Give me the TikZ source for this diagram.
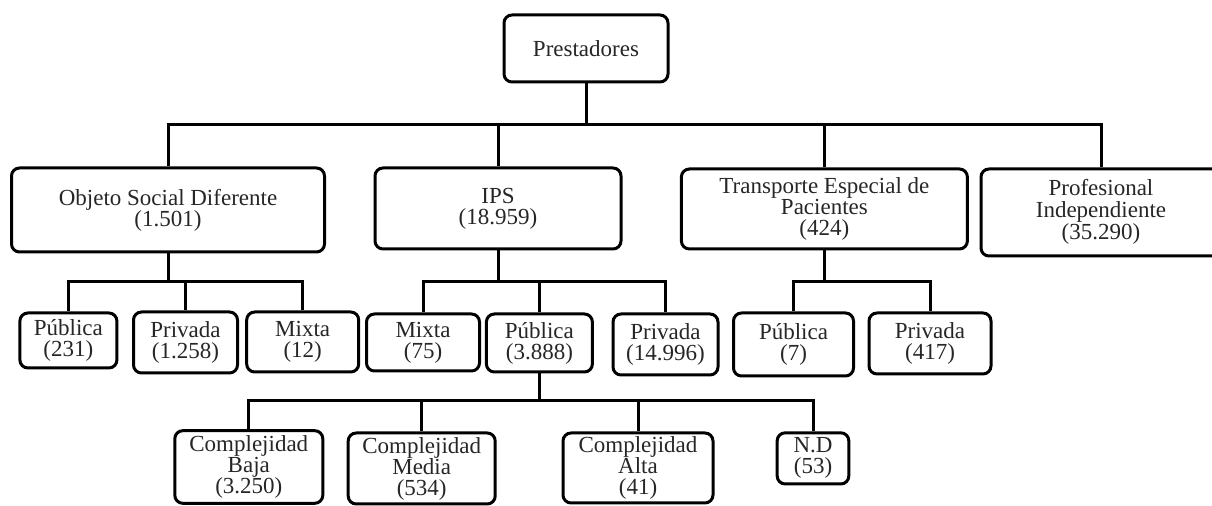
\documentclass[tikz,border=0pt]{standalone}
\usepackage{fontspec}
\setmainfont{Liberation Serif}
\tikzset{
	box/.style={draw,line width=1.5pt,rounded corners=4pt,align=center,inner sep=1pt,
		font=\fontsize{11.5}{10.5}\selectfont,text=black!85},
	link/.style={line width=1.5pt}
}
\begin{document}
\begin{tikzpicture}[x=0.5pt,y=-0.5pt]
\useasboundingbox (0,0) rectangle (1212,506);
\clip (0,0) rectangle (1212,506);

\draw 	(586,48.5) node[box,minimum width=82pt,minimum height=33.5pt](a1){Prestadores};

\draw 	(168,210) node[box,minimum width=156.5pt,minimum height=42pt](b1){Objeto Social Diferente\\(1.501)}
		(498,208.5) node[box,minimum width=123pt,minimum height=40.5pt](b2){IPS\\(18.959)}
		(824.4,209) node[box,minimum width=143pt,minimum height=40pt](b3){Transporte Especial de\\Pacientes\\(424)}
		(1161,212.5) node[box,minimum width=180pt,minimum height=43.5pt](b4){%
			\begin{tabular}{@{}c@{\hspace{60pt}}}Profesional\\Independiente\\(35.290)\end{tabular}};

\draw 	(68.4,340.5) node[box,minimum width=48.5pt,minimum height=27.5pt](c1){Pública\\(231)}
		(185.5,342.5) node[box,minimum width=52pt,minimum height=30.5pt](c2){Privada\\(1.258)}
		(302.7,342) node[box,minimum width=56pt,minimum height=30pt](c3){Mixta\\(12)}
		(423,342.5) node[box,minimum width=56.5pt,minimum height=28.5pt](c4){Mixta\\(75)}
		(539.4,343) node[box,minimum width=53pt,minimum height=29pt](c5){Pública\\(3.888)}
		(665.5,344.5) node[box,minimum width=52.5pt,minimum height=30.5pt](c6){Privada\\(14.996)}
		(793.5,344.5) node[box,minimum width=60pt,minimum height=31.5pt](c7){Pública\\(7)}
		(930,343.5) node[box,minimum width=61pt,minimum height=30.5pt](c8){Privada\\(417)};

\draw 	(248.8,467) node[box,minimum width=74pt,minimum height=36.3pt](d1){Complejidad\\Baja\\(3.250)}
		(421.7,468.5) node[box,minimum width=73.5pt,minimum height=35.5pt](d2){Complejidad\\Media\\(534)}
		(638,468) node[box,minimum width=75pt,minimum height=35pt](d3){Complejidad\\Alta\\(41)}
		(813,458.4) node[box,minimum width=35.8pt,minimum height=25.6pt](d4){N.D\\(53)};

% buses
\coordinate (h0) at (0,125);
\coordinate (h1) at (0,282);
\coordinate (h2) at (0,401);

\foreach \c in {b1,b2,b3}
	\draw[link] (a1.south) -- (a1.south |- h0) -| (\c.north);
\draw[link] (a1.south) -- (a1.south |- h0) -| ([xshift=-30pt]b4.north);
\foreach \c in {c1,c2,c3}
	\draw[link] (b1.south) -- (b1.south |- h1) -| (\c.north);
\foreach \c in {c4,c5,c6}
	\draw[link] (b2.south) -- (b2.south |- h1) -| (\c.north);
\foreach \c in {c7,c8}
	\draw[link] (b3.south) -- (b3.south |- h1) -| (\c.north);
\foreach \c in {d1,d2,d3,d4}
	\draw[link] (c5.south) -- (c5.south |- h2) -| (\c.north);
\end{tikzpicture}
\end{document}
